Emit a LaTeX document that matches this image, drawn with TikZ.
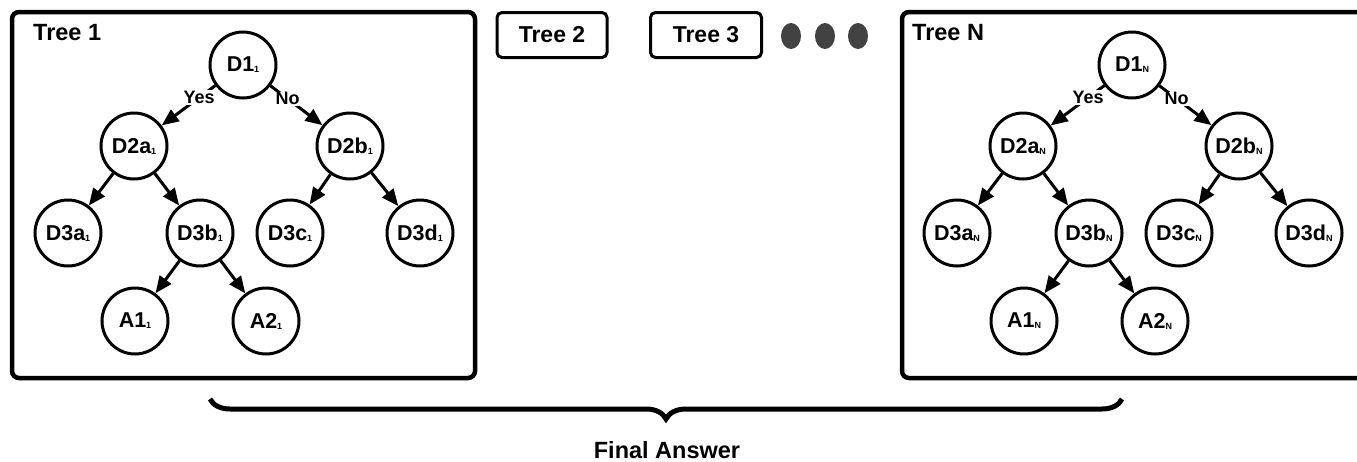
\documentclass[tikz,border=0pt]{standalone}
\usepackage{fontspec}
\setmainfont{Liberation Sans}
\usetikzlibrary{arrows.meta,decorations.pathreplacing,shapes.geometric}
\tikzset{
  dnode/.style={draw, circle, fill=white, line width=3pt, minimum size=66pt, inner sep=0pt,
    font=\fontsize{21.5}{21.5}\selectfont\bfseries},
  treebox/.style={draw, line width=4.5pt, rounded corners=7pt},
  tabbox/.style={draw, line width=3pt, rounded corners=5pt, minimum width=110pt,
    minimum height=45pt, font=\fontsize{23}{23}\selectfont\bfseries},
  treelbl/.style={anchor=west, inner sep=0pt, font=\fontsize{23.5}{23.5}\selectfont\bfseries},
  branch/.style={line width=3pt, -{Triangle[length=17pt,width=14pt]}},
  edgelbl/.style={fill=white, inner sep=1pt, font=\fontsize{18}{18}\selectfont\bfseries},
  dot/.style={fill=black!74, ellipse, minimum width=20pt, minimum height=26pt, inner sep=0pt},
}
\newcommand{\dsub}[2]{#1\raisebox{-1pt}{\fontsize{9}{9}\selectfont #2}}
\begin{document}
\begin{tikzpicture}[x=1pt, y=-1pt]
  \clip (0,0) rectangle (1357,461);
  \fill[white] (0,0) rectangle (1357,461);

  % outer frames of the first and last tree
  \draw[treebox] (12,12) rectangle (475,378);
  \draw[treebox] (902,12) rectangle (1390,378);
  \node[treelbl] (lbl1) at (33,33) {Tree 1};
  \node[treelbl] (lblN) at (912,33) {Tree N};

  % collapsed trees
  \node[tabbox] (tree2) at (552,35) {Tree 2};
  \node[tabbox, minimum width=111pt] (tree3) at (706,35) {Tree 3};
  \foreach \i/\x in {1/791, 2/825, 3/858}
    \node[dot] (dot\i) at (\x,36) {};

  % the two full trees
  \foreach \ox/\sb/\t in {0/1/p, 889/N/q} {
    \begin{scope}[xshift=\ox pt]
      \node[dnode] (\t d1)  at (243,65)  {\dsub{D1}{\sb}};
      \node[dnode] (\t d2a) at (134,146) {\dsub{D2a}{\sb}};
      \node[dnode] (\t d2b) at (350,146) {\dsub{D2b}{\sb}};
      \node[dnode] (\t d3a) at (68,233)  {\dsub{D3a}{\sb}};
      \node[dnode] (\t d3b) at (200,233) {\dsub{D3b}{\sb}};
      \node[dnode] (\t d3c) at (290,233) {\dsub{D3c}{\sb}};
      \node[dnode] (\t d3d) at (420,233) {\dsub{D3d}{\sb}};
      \node[dnode] (\t a1)  at (135,321) {\dsub{A1}{\sb}};
      \node[dnode] (\t a2)  at (266,321) {\dsub{A2}{\sb}};
      \draw[branch] (\t d1) -- node[edgelbl, pos=0.3] {Yes} (\t d2a);
      \draw[branch] (\t d1) -- node[edgelbl, pos=0.33] {No} (\t d2b);
      \draw[branch] (\t d2a) -- (\t d3a);
      \draw[branch] (\t d2a) -- (\t d3b);
      \draw[branch] (\t d2b) -- (\t d3c);
      \draw[branch] (\t d2b) -- (\t d3d);
      \draw[branch] (\t d3b) -- (\t a1);
      \draw[branch] (\t d3b) -- (\t a2);
    \end{scope}
  }

  % brace over all trees
  \coordinate (bl) at (210,399);
  \coordinate (br) at (1122,399);
  \draw[line width=5pt, decorate, decoration={brace, mirror, amplitude=20pt}] (bl) -- (br);
  \node[anchor=base, inner sep=0pt, font=\fontsize{23.5}{23.5}\selectfont\bfseries] (answer) at (667,458.5) {Final Answer};
\end{tikzpicture}
\end{document}
